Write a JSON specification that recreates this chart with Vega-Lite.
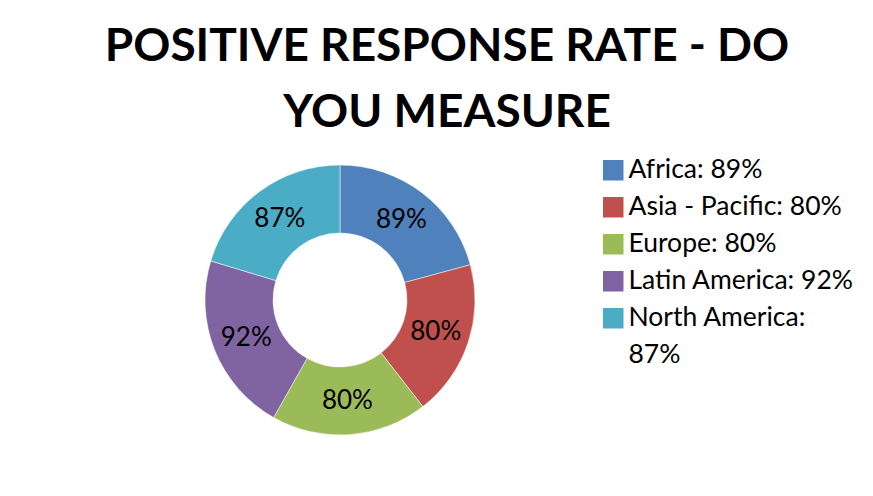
{
  "$schema": "https://vega.github.io/schema/vega-lite/v6.json",
  "width": 664,
  "height": 578,
  "autosize": {"type": "none"},
  "padding": {"left": 8, "top": 11, "right": 201, "bottom": 0},
  "background": "white",
  "title": {
    "text": ["POSITIVE RESPONSE RATE - DO", "YOU MEASURE"],
    "font": "Lato",
    "fontSize": 46,
    "fontWeight": "bold",
    "color": "#000000",
    "lineHeight": 66,
    "anchor": "middle",
    "frame": "group",
    "dx": 107,
    "offset": -126
  },
  "data": {
    "values": [
      {"region": "Africa", "value": 89, "pct": "89%", "legend": "Africa: 89%"},
      {"region": "Asia - Pacific", "value": 80, "pct": "80%", "legend": "Asia - Pacific: 80%"},
      {"region": "Europe", "value": 80, "pct": "80%", "legend": "Europe: 80%"},
      {"region": "Latin America", "value": 92, "pct": "92%", "legend": "Latin America: 92%"},
      {"region": "North America", "value": 87, "pct": "87%", "legend": "North America: 87%"}
    ]
  },
  "encoding": {
    "theta": {"field": "value", "type": "quantitative", "stack": true},
    "order": {"field": "legend", "type": "ordinal"}
  },
  "layer": [
    {
      "mark": {"type": "arc", "innerRadius": 67, "outerRadius": 135, "stroke": "white", "strokeWidth": 0.5},
      "encoding": {
        "color": {
          "field": "legend",
          "type": "nominal",
          "scale": {"range": ["#4F81BD", "#C0504D", "#9BBB59", "#8064A2", "#4BACC6"]},
          "legend": {
            "orient": "none",
            "legendX": 592,
            "legendY": 146,
            "title": null,
            "padding": 0,
            "symbolType": "square",
            "symbolSize": 420,
            "symbolStrokeWidth": 0,
            "labelFont": "Lato",
            "labelFontSize": 26.5,
            "labelColor": "#000000",
            "labelOffset": 2,
            "labelLimit": 400,
            "rowPadding": 10,
            "labelExpr": "datum.label == 'North America: 87%' ? ['North America:', '87%'] : datum.label"
          }
        }
      }
    },
    {
      "mark": {"type": "text", "radius": 101, "font": "Lato", "fontSize": 26, "color": "#000000"},
      "encoding": {
        "text": {"field": "pct", "type": "nominal"}
      }
    }
  ],
  "config": {
    "view": {"stroke": null},
    "style": {"guide-label": {"lineHeight": 37}}
  }
}
